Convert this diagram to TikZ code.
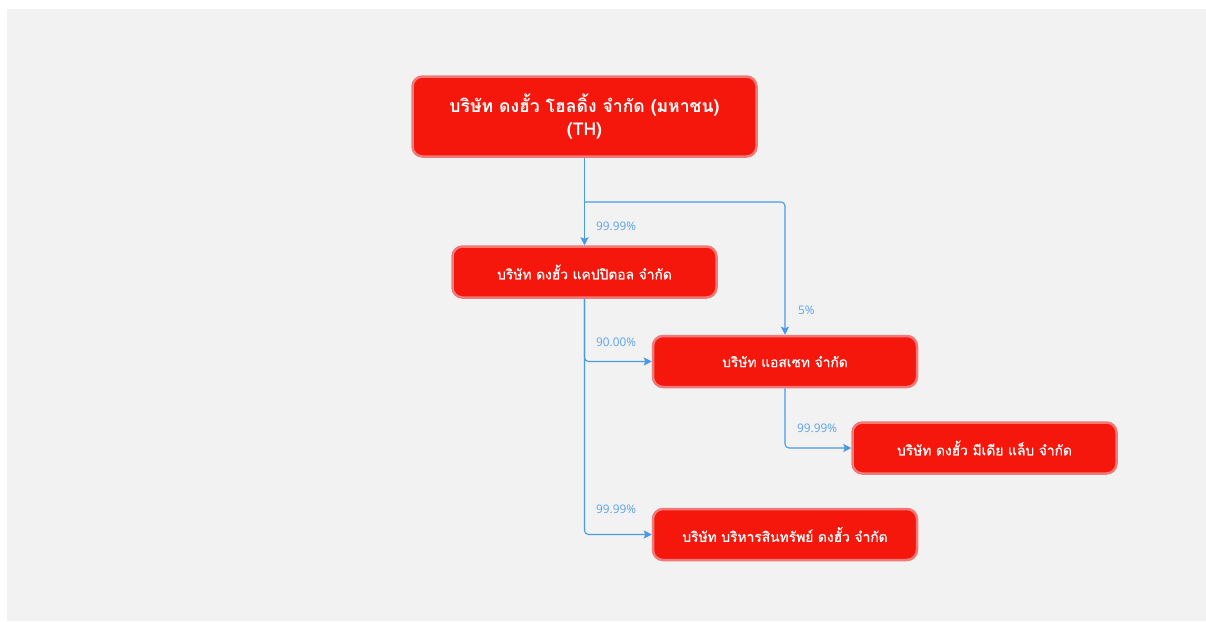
\documentclass[tikz,border=0pt]{standalone}
\usepackage{fontspec}
\newfontfamily\thaifont[Script=Thai]{Loma}
\newfontfamily\thaimed[Script=Thai,FakeBold=0.6]{Loma}
\newfontfamily\labfont{Open Sans}
\usetikzlibrary{arrows.meta}
\definecolor{bgc}{HTML}{F2F2F2}
\definecolor{boxred}{HTML}{F5170C}
\definecolor{boxedge}{HTML}{F07A7A}
\definecolor{linec}{HTML}{4A9AE8}
\definecolor{labc}{HTML}{5BA3EA}
\tikzset{
  orgbox/.style={draw=boxedge, line width=2.5pt, fill=boxred, rounded corners=10pt,
    text=white, inner sep=0pt, align=center,
    font=\thaimed\fontsize{13.8}{16}\selectfont},
  conn/.style={draw=linec, line width=1.1pt, rounded corners=4pt,
    -{Stealth[length=8pt,width=8pt,inset=1.5pt]}},
  pct/.style={text=labc, anchor=west, inner sep=0pt, font=\labfont\fontsize{11.8}{13}\selectfont}
}
\begin{document}
\begin{tikzpicture}[x=1pt,y=-1pt]
\useasboundingbox (0,0) rectangle (1206,621);
\fill[white] (0,0) rectangle (1206,621);
\fill[bgc] (7,9) rectangle (1206,621);

\node[orgbox, minimum width=344pt, minimum height=80pt,
  font=\thaifont\bfseries\fontsize{17.6}{23}\selectfont] (top) at (584.5,116.5)
  {บริษัท ดงฮั้ว โฮลดิ้ง จำกัด (มหาชน)\\(TH)};
\node[orgbox, minimum width=264pt, minimum height=51pt] (b2) at (584.5,272) {บริษัท ดงฮั้ว แคปปิตอล จำกัด};
\node[orgbox, minimum width=264pt, minimum height=51pt] (b3) at (785,361.5) {บริษัท แอสเซท จำกัด};
\node[orgbox, minimum width=264pt, minimum height=51pt] (b4) at (984.5,448) {บริษัท ดงฮั้ว มีเดีย แล็บ จำกัด};
\node[orgbox, minimum width=264pt, minimum height=51pt] (b5) at (785,534.5) {บริษัท บริหารสินทรัพย์ ดงฮั้ว จำกัด};

\coordinate (j1) at (584.5,202);
\draw[conn] (top.south) -- (b2.north);
\draw[conn] (j1) -| (b3.north);
\draw[conn] (b2.south) |- (b3.west);
\draw[conn] (b2.south) |- (b5.west);
\draw[conn] (b3.south) |- (b4.west);

\node[pct] (l1) at (596,226) {99.99\%};
\node[pct] (l2) at (798,310) {5\%};
\node[pct] (l3) at (596,342) {90.00\%};
\node[pct] (l4) at (797,428) {99.99\%};
\node[pct] (l5) at (596,509) {99.99\%};
\end{tikzpicture}
\end{document}
